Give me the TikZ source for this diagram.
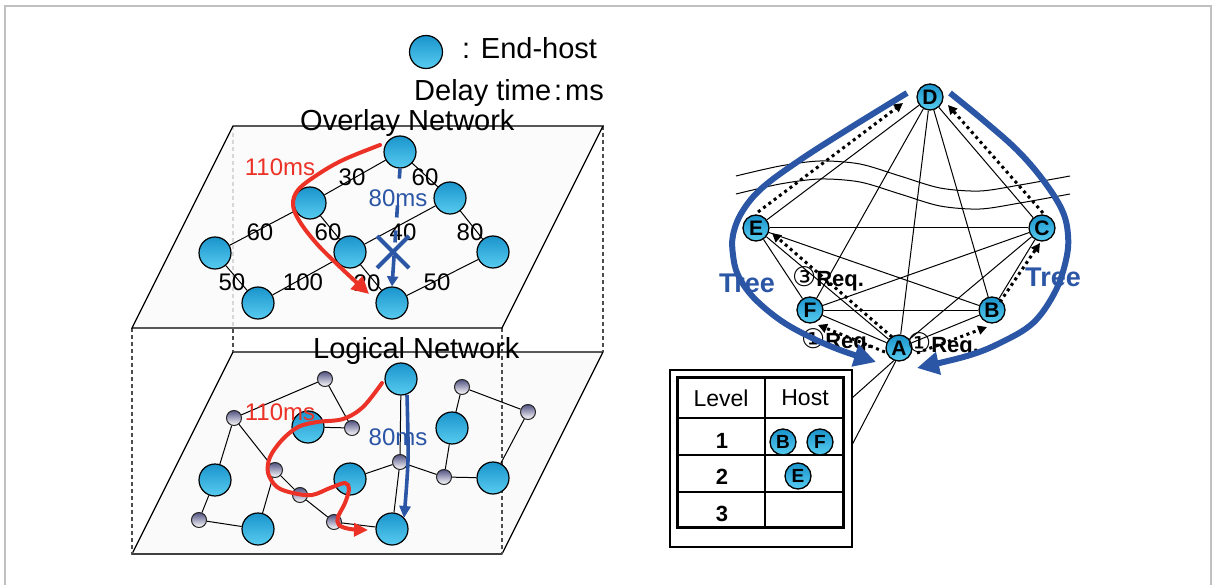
\documentclass[tikz,border=0pt]{standalone}
\usepackage{fontspec}
\setmainfont{Liberation Sans}
\newfontfamily\symfont{DejaVu Sans}
\usetikzlibrary{arrows.meta}

\definecolor{hostblue}{RGB}{26,148,204}
\definecolor{hostlight}{RGB}{88,204,240}
\definecolor{pathred}{RGB}{236,50,38}
\definecolor{treeblue}{RGB}{43,85,165}
\definecolor{planefill}{RGB}{250,250,250}
\definecolor{routertop}{RGB}{82,82,132}
\definecolor{framegray}{RGB}{192,192,192}

\newcommand{\circnum}[1]{{\symfont\mdseries\fontsize{27}{27}\selectfont #1}}

\begin{document}
\begin{tikzpicture}[x=1pt,y=-1pt,
  host/.style={circle, draw=black, line width=1.2pt, top color=hostblue, bottom color=hostlight,
    minimum size=32pt, inner sep=0pt},
  router/.style={circle, draw=black!85, line width=1pt, top color=routertop, bottom color=white,
    minimum size=15pt, inner sep=0pt},
  peer/.style={circle, draw=black, line width=1.3pt, top color=hostblue, bottom color=hostlight,
    minimum size=26pt, inner sep=0pt, font=\fontsize{21}{21}\selectfont\bfseries},
  link/.style={draw=black, line width=1pt},
  plane/.style={fill=planefill, draw=black, line width=1.2pt},
  pillar/.style={draw=black!70, line width=1.2pt, dash pattern=on 4pt off 3pt},
  elabel/.style={font=\fontsize{24}{24}\selectfont, inner sep=0pt},
  title/.style={font=\fontsize{29}{29}\selectfont, inner sep=0pt},
  redpath/.style={draw=pathred, line width=4pt, line cap=round, line join=round},
  bluepath/.style={draw=treeblue, line width=3.6pt},
  req/.style={draw=black, line width=3pt, dash pattern=on 3pt off 3.6pt,
    -{Triangle[length=9pt,width=9pt]}},
  tree/.style={draw=treeblue, line width=6pt, -{Triangle[length=22pt,width=22pt]}},
  reqlabel/.style={font=\fontsize{22}{22}\selectfont\bfseries, inner sep=0pt},
  cell/.style={inner sep=0pt}
]
\useasboundingbox (0,0) rectangle (1212,585);

% outer frame
\draw[framegray, line width=2pt] (5,585) -- (5,6) -- (1211,6) -- (1211,585);

% ---------------- legend ----------------
\node[host, minimum size=33pt] (legHost) at (426,52) {};
\node[title, anchor=base west] (legText) at (462,59) {: End-host};
\node[title, anchor=base west] (legDelay) at (414,101) {Delay time\hspace{3pt}:\hspace{3pt}ms};

% ---------------- the two planes ----------------
\coordinate (oBL) at (132,328); \coordinate (oTL) at (233,126);
\coordinate (oTR) at (603,126); \coordinate (oBR) at (502,328);
\coordinate (lBL) at (132,554); \coordinate (lTL) at (233,352);
\coordinate (lTR) at (603,352); \coordinate (lBR) at (502,554);

\filldraw[plane] (lBL) -- (lTL) -- (lTR) -- (lBR) -- cycle;
\draw[black!75, line width=2.2pt] (lBL) -- (lBR);
\draw[pillar] (oBL) -- (lBL);
\draw[pillar] (oBR) -- (lBR);
\draw[pillar] (oTR) -- (lTR);
\draw[pillar] (oTL) -- (lTL);
\filldraw[plane, fill opacity=0.8] (oBL) -- (oTL) -- (oTR) -- (oBR) -- cycle;

\node[title, anchor=base west] (ovTitle) at (300,131) {Overlay Network};
\node[title, anchor=base west] (lgTitle) at (313,358) {Logical Network};

% ---------------- overlay network ----------------
\node[host] (N1) at (400,152) {};
\node[host] (N2) at (310,203) {};
\node[host] (N3) at (450,198) {};
\node[host] (N4) at (215,253) {};
\node[host] (N5) at (350,252) {};
\node[host] (N6) at (493,252) {};
\node[host] (N7) at (258,303) {};
\node[host] (N8) at (392,303) {};

\draw[link] (N1) -- (N2);
\draw[link] (N1) -- (N3);
\draw[link] (N2) -- (N4);
\draw[link] (N2) -- (N5);
\draw[link] (N3) -- (N5);
\draw[link] (N3) -- (N6);
\draw[link] (N4) -- (N7);
\draw[link] (N7) -- (N5);
\draw[link] (N5) -- (N8);
\draw[link] (N8) -- (N6);

\node[elabel] (w12) at (352,177) {30};
\node[elabel] (w13) at (425,177) {60};
\node[elabel] (w24) at (260,232) {60};
\node[elabel] (w25) at (328,232) {60};
\node[elabel] (w35) at (403,232) {40};
\node[elabel] (w36) at (470,232) {80};
\node[elabel] (w47) at (232,282) {50};
\node[elabel] (w75) at (303,282) {100};
\node[elabel] (w58) at (367,283) {20};
\node[elabel] (w86) at (437,282) {50};

% detour through the overlay
\draw[redpath, -{Triangle[length=17pt,width=17pt]}] plot[smooth, tension=0.6] coordinates
  {(380,145) (343,160) (317,175) (298,190) (293,205) (300,222) (317,244) (338,265) (356,282) (369,294)};
\node[elabel, text=pathred] (ovRed) at (280,167) {110ms};

% direct overlay link, cut
\draw[bluepath, dash pattern=on 10pt off 27pt on 12pt off 13pt on 12pt off 13pt on 60pt,
  -{Triangle[length=10pt,width=11pt]}] (N1.south) -- (N8.north);
\node[elabel, text=treeblue] (ovBlue) at (398,198) {80ms};
\draw[treeblue, line width=4pt] (377,236) -- (409,268);
\draw[treeblue, line width=4pt] (409,236) -- (377,268);

% ---------------- logical network ----------------
\node[host] (L1) at (401,379) {};
\node[host] (L2) at (308,427) {};
\node[host] (L3) at (452,428) {};
\node[host] (L4) at (215,480) {};
\node[host] (L5) at (350,479) {};
\node[host] (L6) at (493,478) {};
\node[host] (L7) at (258,529) {};
\node[host] (L8) at (392,529) {};

\node[router] (s1) at (325,379) {};
\node[router] (s2) at (234,418) {};
\node[router] (s3) at (352,428) {};
\node[router] (s4) at (275,470) {};
\node[router] (s5) at (300,495) {};
\node[router] (s6) at (400,462) {};
\node[router] (s7) at (444,477) {};
\node[router] (s8) at (462,387) {};
\node[router] (s9) at (528,412) {};
\node[router] (s10) at (199,520) {};
\node[router] (s11) at (334,522) {};

\draw[link] (s1) -- (s2);
\draw[link] (s1) -- (s3);
\draw[link] (s2) -- (s4);
\draw[link] (s2) -- (L4);
\draw[link] (L2) -- (s3);
\draw[link] (s4) -- (s5);
\draw[link] (s4) -- (L7);
\draw[link] (s5) -- (s11);
\draw[link] (s11) -- (L8);
\draw[link] (L4) -- (s10);
\draw[link] (s10) -- (L7);
\draw[link] (L5) -- (s6);
\draw[link] (L1) -- (s6);
\draw[link] (s6) -- (L8);
\draw[link] (s6) -- (s7);
\draw[link] (s7) -- (L3);
\draw[link] (s7) -- (L6);
\draw[link] (s8) -- (L3);
\draw[link] (s8) -- (s9);
\draw[link] (s9) -- (L6);

\draw[redpath, -{Triangle[length=14pt,width=13pt]}] plot[smooth, tension=0.55] coordinates
  {(382,383) (363,407) (343,419) (317,422) (298,427) (282,440) (270,457) (268,473) (277,487)
   (293,493) (312,495) (330,488) (345,483) (349,489) (345,503) (338,517) (339,525) (350,529) (368,530)};
\node[elabel, text=pathred] (lgRed) at (280,412) {110ms};

\draw[bluepath, -{Triangle[length=12pt,width=11pt]}] plot[smooth] coordinates
  {(407,395) (408,460) (404,518)};
\node[elabel, text=treeblue] (lgBlue) at (398,437) {80ms};

% ---------------- peer graph ----------------
\node[peer] (D) at (930,97) {D};
\node[peer] (E) at (756,228) {E};
\node[peer] (C) at (1042,228) {C};
\node[peer] (F) at (810,310) {F};
\node[peer] (B) at (992,310) {B};
\node[peer] (A) at (899,348) {A};

\draw[link] (D) -- (E);
\draw[link] (D) -- (F);
\draw[link] (D) -- (A);
\draw[link] (D) -- (B);
\draw[link] (D) -- (C);
\draw[link] (E) -- (C);
\draw[link] (E) -- (B);
\draw[link] (E) -- (F);
\draw[link] (E) -- (A);
\draw[link] (C) -- (F);
\draw[link] (C) -- (A);
\draw[link] (C) -- (B);
\draw[link] (F) -- (B);
\draw[link] (F) -- (A);
\draw[link] (B) -- (A);

% wide link crossing the graph
\draw[link] plot[smooth] coordinates
  {(736,176) (780,166) (820,161) (860,164) (900,176) (940,188) (980,191) (1020,185) (1070,176)};
\draw[link] plot[smooth] coordinates
  {(736,194) (780,184) (820,179) (860,182) (900,194) (940,206) (980,209) (1020,203) (1070,194)};

% request messages
\coordinate (rAFs) at (885,352); \coordinate (rAFe) at (818,325);
\coordinate (rABs) at (917,353); \coordinate (rABe) at (987,327);
\coordinate (rAEs) at (892,337); \coordinate (rAEe) at (772,233);
\coordinate (rBCs) at (1000,302); \coordinate (rBCe) at (1040,243);
\coordinate (rEDs) at (758,212); \coordinate (rEDe) at (903,103);
\coordinate (rCDs) at (1043,213); \coordinate (rCDe) at (948,105);
\draw[req] (rAFs) -- (rAFe);
\draw[req] (rABs) -- (rABe);
\draw[req] (rAEs) -- (rAEe);
\draw[req] (rBCs) -- (rBCe);
\draw[req] (rEDs) -- (rEDe);
\draw[req] (rCDs) -- (rCDe);

\node[reqlabel] (req3) at (828,279) {\circnum{③}Req.};
\node[reqlabel] (req1F) at (837,341) {\circnum{①}Req.};
\node[reqlabel] (req1B) at (943,345) {\circnum{①}Req.};

% distribution tree
\draw[tree] plot[smooth, tension=0.6] coordinates
  {(907,93) (850,128) (800,160) (762,188) (742,212) (733,235) (733,255) (738,275) (753,297)
   (780,320) (810,337) (840,350) (876,362)};
\draw[tree] plot[smooth, tension=0.6] coordinates
  {(950,93) (983,120) (1017,150) (1043,180) (1062,210) (1068,235) (1066,260) (1055,292)
   (1033,323) (1000,343) (967,356) (917,368)};
\node[font=\fontsize{27}{27}\selectfont\bfseries, text=treeblue, inner sep=0pt] (treeL) at (747,283) {Tree};
\node[font=\fontsize{27}{27}\selectfont\bfseries, text=treeblue, inner sep=0pt] (treeR) at (1053,277) {Tree};

% ---------------- level table of A ----------------
\coordinate (cal1) at (852,398);
\coordinate (cal2) at (852,445);
\draw[link] (A.-112) -- (cal1);
\draw[link] (A.-104) -- (cal2);
\draw[black, line width=1.2pt, fill=white] (670,370) rectangle (852,547);
\draw[black, line width=1.5pt] (765,377) -- (765,527);
\draw[black, line width=2pt] (677,418) -- (843,418);
\draw[black, line width=1.5pt] (677,455) -- (843,455);
\draw[black, line width=1.5pt] (677,492) -- (843,492);
\draw[black, line width=3pt] (677,377) rectangle (843,527);

\node[cell, font=\fontsize{23}{23}\selectfont] (hLevel) at (721,398) {Level};
\node[cell, font=\fontsize{23}{23}\selectfont] (hHost) at (805,398) {Host};
\node[cell, font=\fontsize{22}{22}\selectfont\bfseries] (lv1) at (722,441) {1};
\node[cell, font=\fontsize{22}{22}\selectfont\bfseries] (lv2) at (722,477) {2};
\node[cell, font=\fontsize{22}{22}\selectfont\bfseries] (lv3) at (722,514) {3};
\node[peer, minimum size=26pt, font=\fontsize{19}{19}\selectfont\bfseries] (tB) at (783,442) {B};
\node[peer, minimum size=26pt, font=\fontsize{19}{19}\selectfont\bfseries] (tF) at (820,442) {F};
\node[peer, minimum size=26pt, font=\fontsize{19}{19}\selectfont\bfseries] (tE) at (798,476) {E};

\end{tikzpicture}
\end{document}
